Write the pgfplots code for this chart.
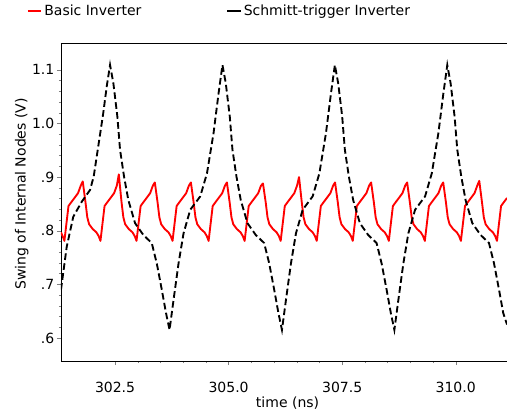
\documentclass[border=0pt]{standalone}
\usepackage{fontspec}
\setmainfont{DejaVu Sans}
\usepackage{pgfplots}
\pgfplotsset{compat=1.18}

\begin{document}
\begin{tikzpicture}[font=\fontsize{10.5}{12.6}\selectfont]
\path[use as bounding box] (-45.75pt,-39.75pt) rectangle (334.5pt,270.75pt);
\begin{axis}[
    at={(0,0)}, anchor=south west,
    scale only axis, width=334.5pt, height=238.5pt,
    xmin=301.31, xmax=311.13,
    ymin=0.557, ymax=1.15,
    axis y line*=left,
    xtick pos=left,
    tick align=outside,
    major tick length=3pt, minor tick length=1.6pt,
    xtick={302.5,305,307.5,310},
    xticklabels={302.5,305.0,307.5,310.0},
    ytick={0.6,0.7,0.8,0.9,1.0,1.1},
    yticklabels={.6,.7,.8,.9,1.0,1.1},
    minor x tick num=4, minor y tick num=4,
    xticklabel style={yshift=-9.5pt},
    yticklabel style={xshift=1.5pt},
    xlabel={time (ns)},
    ylabel={Swing of Internal Nodes (V)},
    xlabel style={at={(axis description cs:0.508,-0.132)}, anchor=center},
    ylabel style={at={(axis description cs:-0.088,0.525)}, anchor=center},
    legend columns=2,
    legend style={at={(axis description cs:-0.0762,1.1006)}, anchor=west,
        draw=none, fill=none, inner sep=0pt,
        /tikz/every even column/.append style={column sep=62pt}},
    legend image code/.code={\draw[#1, solid, line width=0.8pt] (0pt,0pt) -- (10pt,0pt);},
]

% basic inverter
\addplot[red, line width=1.4pt, line join=round] coordinates {
(301.310,0.797) (301.345,0.790) (301.385,0.781) (301.425,0.810) (301.475,0.846)
(301.535,0.853) (301.615,0.862) (301.685,0.870) (301.745,0.884)
(301.789,0.892) (301.849,0.853) (301.889,0.825) (301.929,0.812) (302.009,0.803)
(302.089,0.797) (302.139,0.790) (302.179,0.781) (302.219,0.810) (302.269,0.846)
(302.329,0.853) (302.409,0.862) (302.479,0.870) (302.539,0.884)
(302.583,0.905) (302.643,0.853) (302.683,0.825) (302.723,0.812) (302.803,0.803)
(302.883,0.797) (302.933,0.790) (302.973,0.781) (303.013,0.810) (303.063,0.846)
(303.123,0.853) (303.203,0.862) (303.273,0.870) (303.333,0.884)
(303.376,0.890) (303.436,0.853) (303.476,0.825) (303.516,0.812) (303.596,0.803)
(303.676,0.797) (303.726,0.790) (303.766,0.781) (303.806,0.810) (303.856,0.846)
(303.916,0.853) (303.996,0.862) (304.066,0.870) (304.126,0.884)
(304.170,0.890) (304.230,0.853) (304.270,0.825) (304.310,0.812) (304.390,0.803)
(304.470,0.797) (304.520,0.790) (304.560,0.781) (304.600,0.810) (304.650,0.846)
(304.710,0.853) (304.790,0.862) (304.860,0.870) (304.920,0.884)
(304.963,0.890) (305.023,0.853) (305.063,0.825) (305.103,0.812) (305.183,0.803)
(305.263,0.797) (305.313,0.790) (305.353,0.781) (305.393,0.810) (305.443,0.846)
(305.503,0.853) (305.583,0.862) (305.653,0.870) (305.713,0.884)
(305.757,0.888) (305.817,0.853) (305.857,0.825) (305.897,0.812) (305.977,0.803)
(306.057,0.797) (306.107,0.790) (306.147,0.781) (306.187,0.810) (306.237,0.846)
(306.297,0.853) (306.377,0.862) (306.447,0.870) (306.507,0.884)
(306.551,0.900) (306.611,0.853) (306.651,0.825) (306.691,0.812) (306.771,0.803)
(306.851,0.797) (306.901,0.790) (306.941,0.781) (306.981,0.810) (307.031,0.846)
(307.091,0.853) (307.171,0.862) (307.241,0.870) (307.301,0.884)
(307.344,0.890) (307.404,0.853) (307.444,0.825) (307.484,0.812) (307.564,0.803)
(307.644,0.797) (307.694,0.790) (307.734,0.781) (307.774,0.810) (307.824,0.846)
(307.884,0.853) (307.964,0.862) (308.034,0.870) (308.094,0.884)
(308.138,0.890) (308.198,0.853) (308.238,0.825) (308.278,0.812) (308.358,0.803)
(308.438,0.797) (308.488,0.790) (308.528,0.781) (308.568,0.810) (308.618,0.846)
(308.678,0.853) (308.758,0.862) (308.828,0.870) (308.888,0.884)
(308.931,0.890) (308.991,0.853) (309.031,0.825) (309.071,0.812) (309.151,0.803)
(309.231,0.797) (309.281,0.790) (309.321,0.781) (309.361,0.810) (309.411,0.846)
(309.471,0.853) (309.551,0.862) (309.621,0.870) (309.681,0.884)
(309.725,0.890) (309.785,0.853) (309.825,0.825) (309.865,0.812) (309.945,0.803)
(310.025,0.797) (310.075,0.790) (310.115,0.781) (310.155,0.810) (310.205,0.846)
(310.265,0.853) (310.345,0.862) (310.415,0.870) (310.475,0.884)
(310.519,0.893) (310.579,0.853) (310.619,0.825) (310.659,0.812) (310.739,0.803)
(310.819,0.797) (310.869,0.790) (310.909,0.781) (310.949,0.810) (310.999,0.846)
(311.059,0.853) (311.130,0.861)
};
\addlegendentry{Basic Inverter}

% schmitt-trigger inverter
\addplot[black, line width=1.4pt, dash pattern=on 5pt off 2.5pt] coordinates {
(301.310,0.690) (301.436,0.770) (301.580,0.826) (301.767,0.854) (301.950,0.876)
(302.030,0.901) (302.130,0.957) (302.240,1.019) (302.317,1.069) (302.390,1.109)
(302.463,1.075) (302.551,1.013) (302.610,0.951) (302.698,0.901) (302.793,0.857)
(302.941,0.814) (303.123,0.792) (303.308,0.777) (303.419,0.739) (303.529,0.690)
(303.623,0.646) (303.700,0.615)
(303.788,0.671) (303.898,0.739) (304.008,0.795) (304.156,0.839) (304.376,0.864)
(304.524,0.907) (304.669,0.982) (304.779,1.056) (304.865,1.109)
(304.938,1.075) (305.026,1.013) (305.085,0.951) (305.173,0.901) (305.268,0.857)
(305.416,0.814) (305.598,0.792) (305.783,0.777) (305.894,0.739) (306.004,0.690)
(306.098,0.646) (306.175,0.615)
(306.263,0.671) (306.373,0.739) (306.483,0.795) (306.631,0.839) (306.851,0.864)
(306.999,0.907) (307.144,0.982) (307.254,1.056) (307.340,1.109)
(307.413,1.075) (307.501,1.013) (307.560,0.951) (307.648,0.901) (307.743,0.857)
(307.891,0.814) (308.073,0.792) (308.258,0.777) (308.369,0.739) (308.479,0.690)
(308.573,0.646) (308.650,0.615)
(308.738,0.671) (308.848,0.739) (308.958,0.795) (309.106,0.839) (309.326,0.864)
(309.474,0.907) (309.619,0.982) (309.729,1.056) (309.815,1.109)
(309.888,1.075) (309.976,1.013) (310.035,0.951) (310.123,0.901) (310.218,0.857)
(310.366,0.814) (310.548,0.792) (310.733,0.777) (310.844,0.739) (310.954,0.690)
(311.048,0.646) (311.130,0.625)
};
\addlegendentry{Schmitt-trigger Inverter}

\end{axis}
\end{tikzpicture}
\end{document}
